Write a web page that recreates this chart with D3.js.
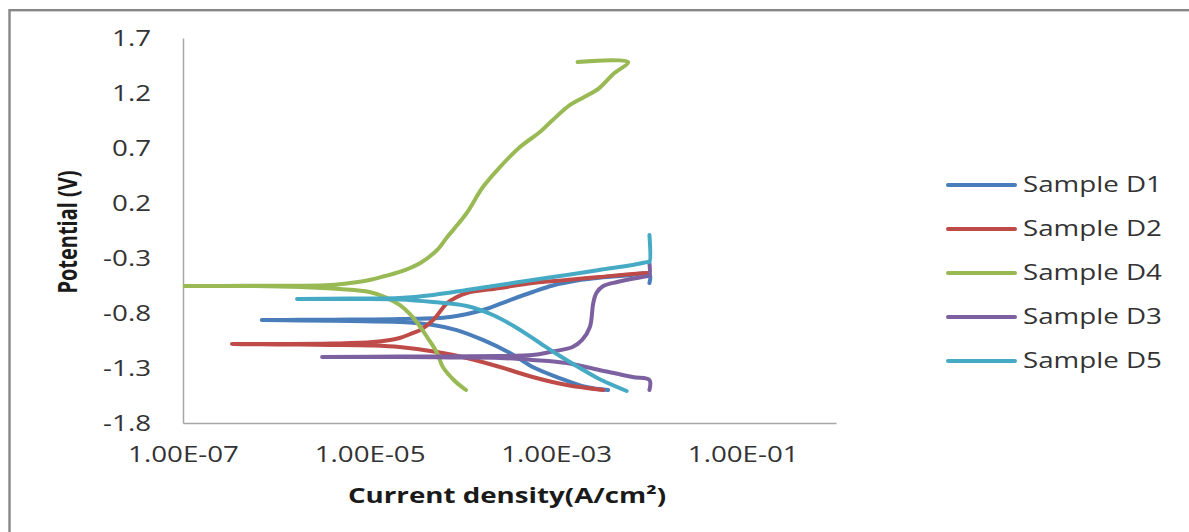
<!DOCTYPE html>
<html><head><meta charset="utf-8">
<script src="https://cdn.jsdelivr.net/npm/d3@7"></script>
<style>
html,body{margin:0;padding:0;background:#fff;}
svg{display:block;}
text{font-family:"Open Sans","Liberation Sans",sans-serif;}
</style></head>
<body>
<svg id="chart" width="1189" height="532"></svg>
<script>
// ---------- data (current density A/cm², potential V) ----------
const seriesNames = ["Sample D1","Sample D2","Sample D4","Sample D3","Sample D5"];
const seriesColors = ["#4A7EBB","#BE4B48","#98B954","#7D60A0","#46AAC5"];

const d1_i = [3.6e-3,2.1e-3,1.02e-3,5.6e-4,3.2e-4,1.64e-4,8.6e-5,4.8e-5,2.1e-5,6.2e-6,1.8e-6,7.0e-7,1.8e-6,6.2e-6,2.1e-5,7.3e-5,1.64e-4,3.2e-4,5.6e-4,9.2e-4,1.67e-3,2.9e-3,5.7e-3,1e-2,1e-2];
const d1_E = [-1.5,-1.473,-1.382,-1.291,-1.164,-1.045,-0.955,-0.909,-0.882,-0.873,-0.868,-0.864,-0.862,-0.86,-0.855,-0.836,-0.773,-0.682,-0.609,-0.55,-0.505,-0.48,-0.46,-0.445,-0.527];

const d2_i = [3.2e-3,1.3e-3,5.6e-4,2.5e-4,1.1e-4,5.3e-5,2.1e-5,1.0e-5,3.8e-6,1.1e-6,3.35e-7,1.1e-6,3.8e-6,1.09e-5,2.1e-5,2.9e-5,3.5e-5,4.8e-5,6.8e-5,8.6e-5,1.1e-4,2.5e-4,5.6e-4,1.3e-3,2.9e-3,6.6e-3,9.6e-3];
const d2_E = [-1.5,-1.455,-1.382,-1.291,-1.209,-1.155,-1.109,-1.095,-1.09,-1.086,-1.082,-1.082,-1.078,-1.064,-1.027,-0.982,-0.955,-0.864,-0.709,-0.655,-0.618,-0.573,-0.527,-0.5,-0.473,-0.445,-0.436];

const d4_i = [1.08e-4,8.2e-5,6.1e-5,5.3e-5,4.2e-5,3.5e-5,2.7e-5,2.1e-5,1.46e-5,1.0e-5,4.8e-6,1.8e-6,5.2e-7,1e-7,5.2e-7,1.8e-6,3.8e-6,6.2e-6,1.0e-5,1.46e-5,2.1e-5,3.5e-5,5.3e-5,6.8e-5,8.2e-5,1.1e-4,1.64e-4,2.5e-4,4.1e-4,6.7e-4,9.2e-4,1.41e-3,2.0e-3,2.9e-3,4.1e-3,5.9e-3,1.7e-3];
const d4_E = [-1.5,-1.418,-1.291,-1.164,-1.027,-0.927,-0.809,-0.727,-0.655,-0.609,-0.582,-0.564,-0.555,-0.555,-0.553,-0.552,-0.545,-0.527,-0.5,-0.464,-0.427,-0.345,-0.227,-0.109,-0.027,0.109,0.345,0.527,0.709,0.845,0.955,1.091,1.164,1.245,1.373,1.482,1.482];

const d3_i = [1e-2,1e-2,6.6e-3,2.9e-3,1.3e-3,5.6e-4,2.5e-4,7.3e-5,2.1e-5,3.1e-6,2.1e-5,2.5e-4,5.6e-4,8.6e-4,1.5e-3,1.9e-3,2.3e-3,2.5e-3,2.7e-3,3.2e-3,4.5e-3,9.6e-3,1e-2,1e-2];
const d3_E = [-1.5,-1.409,-1.382,-1.318,-1.255,-1.227,-1.209,-1.205,-1.2,-1.2,-1.196,-1.191,-1.182,-1.155,-1.109,-1.045,-0.927,-0.709,-0.618,-0.555,-0.518,-0.464,-0.46,-0.345];

const d5_i = [5.7e-3,2.9e-3,1.8e-3,1.1e-3,6.7e-4,3.8e-4,2.1e-4,1.1e-4,4.8e-5,2.1e-5,6.2e-6,1.67e-6,6.2e-6,2.1e-5,4.8e-5,1.1e-4,2.5e-4,5.6e-4,1.3e-3,2.9e-3,6.6e-3,9.6e-3,1e-2,1e-2];
const d5_E = [-1.509,-1.4,-1.3,-1.191,-1.073,-0.936,-0.818,-0.736,-0.7,-0.677,-0.673,-0.673,-0.668,-0.664,-0.636,-0.591,-0.545,-0.5,-0.455,-0.409,-0.364,-0.336,-0.336,-0.091];

const xTicks = [1e-7,1e-5,1e-3,1e-1];
const xTickLabels = ["1.00E-07","1.00E-05","1.00E-03","1.00E-01"];
const yTicks = [-1.8,-1.3,-0.8,-0.3,0.2,0.7,1.2,1.7];
const yTickLabels = ["-1.8","-1.3","-0.8","-0.3","0.2","0.7","1.2","1.7"];
const xTitle = "Current density(A/cm²)";
const yTitle = "Potential (V)";

const seriesI = [d1_i,d2_i,d4_i,d3_i,d5_i];
const seriesE = [d1_E,d2_E,d4_E,d3_E,d5_E];

// ---------- drawing ----------
const SX = 1.32; // horizontal glyph stretch of the original picture
const svg = d3.select("#chart");

svg.append("rect").attr("x",9.5).attr("y",10.2).attr("width",1400).attr("height",800)
  .attr("fill","none").attr("stroke","#878787").attr("stroke-width",2.4);

const x = d3.scaleLog().domain([1e-7,1]).range([183,836]);
const y = d3.scaleLinear().domain([-1.8,1.7]).range([423,38]);

svg.append("defs").append("clipPath").attr("id","plotclip")
  .append("rect").attr("x",183).attr("y",36).attr("width",653).attr("height",389);

// axes
const gy = svg.append("g").attr("transform","translate(183,0)")
  .call(d3.axisLeft(y).tickValues(yTicks).tickSize(0).tickSizeOuter(0)
    .tickFormat((d,i)=>yTickLabels[i]));
gy.select(".domain").attr("stroke","#A6A6A6").attr("stroke-width",1.5);
gy.selectAll("text").attr("x",-32/SX).attr("dy","0.36em").attr("transform",`scale(${SX},1)`)
  .style("font-size","21px").attr("fill","#333").style("font-family","'Open Sans',sans-serif");

const gx = svg.append("g").attr("transform","translate(0,423)")
  .call(d3.axisBottom(x).tickValues(xTicks).tickSize(0).tickSizeOuter(0)
    .tickFormat((d,i)=>xTickLabels[i]));
gx.select(".domain").attr("stroke","#A6A6A6").attr("stroke-width",1.5);
gx.selectAll("text").attr("y",24).attr("dy","0.72em").attr("transform",`scale(${SX},1)`)
  .style("font-size","21px").attr("fill","#333").style("font-family","'Open Sans',sans-serif");

// titles
svg.append("text").attr("transform",`translate(507,503) scale(${SX},1)`)
  .attr("text-anchor","middle").style("font-size","21px").style("font-weight","bold").attr("fill","#1a1a1a")
  .text(xTitle);
svg.append("text").attr("transform",`translate(77,232) scale(${SX},1) rotate(-90)`)
  .attr("text-anchor","middle").style("font-size","20px").style("font-weight","bold").attr("fill","#1a1a1a")
  .text(yTitle);

// series lines
const line = d3.line().x(d=>x(d[0])).y(d=>y(d[1])).curve(d3.curveCatmullRom.alpha(0.5));
const plot = svg.append("g").attr("clip-path","url(#plotclip)");
seriesNames.forEach((name,k)=>{
  const pts = seriesI[k].map((v,j)=>[v,seriesE[k][j]]);
  plot.append("path").datum(pts).attr("d",line)
    .attr("fill","none").attr("stroke",seriesColors[k]).attr("stroke-width",4)
    .attr("stroke-linecap","round").attr("stroke-linejoin","round");
});

// legend
const lg = svg.append("g");
seriesNames.forEach((name,k)=>{
  const ly = 185 + k*44;
  lg.append("line").attr("x1",948).attr("x2",1015).attr("y1",ly).attr("y2",ly)
    .attr("stroke",seriesColors[k]).attr("stroke-width",4).attr("stroke-linecap","round");
  lg.append("text").attr("transform",`translate(1023,${ly}) scale(${SX},1)`)
    .attr("dy","0.35em").style("font-size","21px").attr("fill","#333").text(name);
});
</script>
</body></html>
